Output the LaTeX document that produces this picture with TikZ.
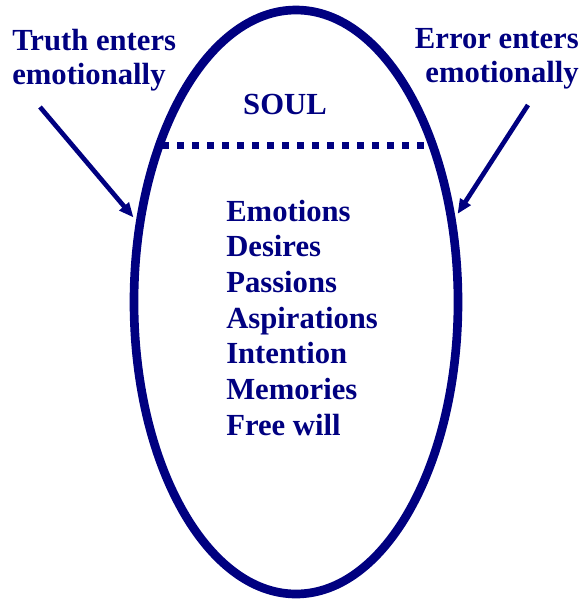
\documentclass[tikz,border=0pt]{standalone}
\usepackage{fontspec}
\setmainfont{Liberation Serif}
\usepackage{xcolor}
\definecolor{soulnavy}{HTML}{000080}
\usetikzlibrary{shapes.geometric, arrows.meta}

\begin{document}
\begin{tikzpicture}[
  x=0.75pt, y=-0.75pt,
  outline/.style={ellipse, draw=soulnavy, line width=6.5pt,
    minimum width=243pt, minimum height=438pt, inner sep=0pt},
  divider/.style={draw=soulnavy, line width=5.25pt,
    dash pattern=on 5.25pt off 6pt},
  txt/.style={text=soulnavy, inner sep=0pt,
    font=\fontsize{23}{26.8}\selectfont\bfseries},
  lbl/.style={txt, font=\fontsize{23}{25.5}\selectfont\bfseries},
  arr/.style={-{Triangle[length=11pt, width=9pt]}, line width=3.5pt,
    draw=soulnavy, shorten >=3pt}
]
  \useasboundingbox (0,0) rectangle (581,601);

  \node[outline] (soul) at (296,302) {};
  \node[txt, anchor=base] (title) at (285,114) {SOUL};

  \coordinate (divl) at (162,145.5);
  \coordinate (divr) at (431,145.5);
  \draw[divider] (divl) -- (divr);

  \node[txt, align=left, anchor=north west] (traits) at (226,199.5)
    {Emotions\\Desires\\Passions\\Aspirations\\Intention\\Memories\\Free will};

  \node[lbl, align=left, anchor=north west] (truth) at (12,28.5)
    {Truth enters\\emotionally};
  \node[lbl, align=right, anchor=north east] (error) at (579,28.5)
    {Error enters\\emotionally};

  \coordinate (tstart) at (40,107);
  \coordinate (estart) at (528,105);
  \draw[arr] (tstart) -- (soul.153);
  \draw[arr] (estart) -- (soul.28);
\end{tikzpicture}
\end{document}
